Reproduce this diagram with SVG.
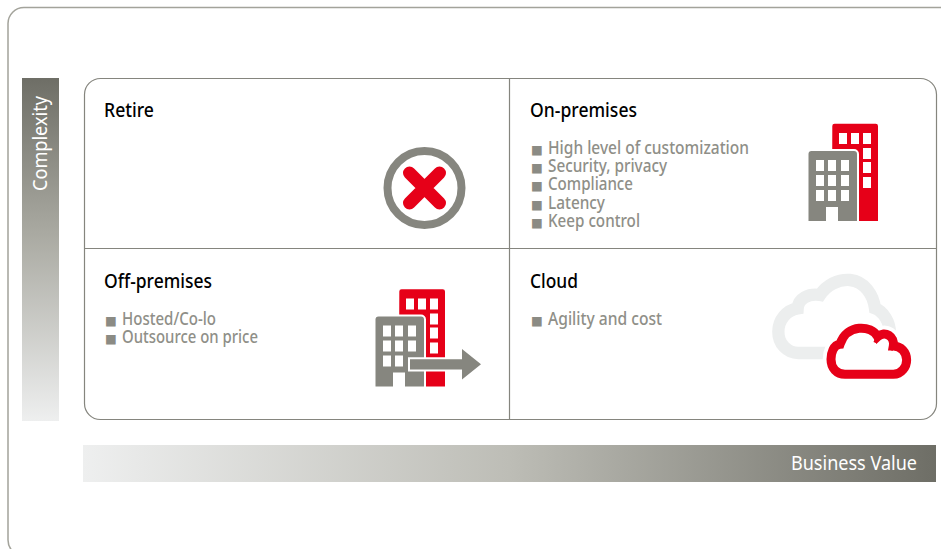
<svg xmlns="http://www.w3.org/2000/svg" width="941" height="549" viewBox="0 0 941 549">
<style>
text{font-family:"Noto Sans","Open Sans","Liberation Sans",sans-serif}
.h{font-size:20px;font-weight:500;fill:#000}
.b{font-size:17.500px;font-weight:500;fill:#8f8f88}
.s{font-family:"DejaVu Sans",sans-serif;font-size:12.500px;fill:#8b8b84}
.l{font-size:20px;fill:#fff}
.f{fill:none;stroke:#a3a39b;stroke-width:1.500}
.g{fill:#86867f}
.r{fill:#e60018}
.w{fill:#fff}
</style>
<defs>
<linearGradient id="gv" x1="0" y1="0" x2="0" y2="1"><stop offset="0" stop-color="#6e6e66"/><stop offset=".45" stop-color="#a9a9a1"/><stop offset="1" stop-color="#eeefef"/></linearGradient>
<linearGradient id="gh" x1="0" y1="0" x2="1" y2="0"><stop offset="0" stop-color="#eeefef"/><stop offset=".5" stop-color="#bdbdb6"/><stop offset="1" stop-color="#6e6e66"/></linearGradient>
<g id="bld">
<path class="r" d="M832.300 126a2.300 2.300 0 0 1 2.300-2.300h41.100a2.300 2.300 0 0 1 2.300 2.300v95h-46z"/>
<g class="w"><rect x="839" y="133" width="8" height="11"/><rect x="851" y="133" width="8" height="11"/><rect x="863" y="133" width="8" height="11"/><rect x="863" y="148" width="8" height="11"/><rect x="863" y="162" width="8" height="11"/><rect x="863" y="177" width="8" height="11"/></g>
<path class="g" stroke="#fff" stroke-width="4" paint-order="stroke" d="M808.500 221V154a3 3 0 0 1 3-3h42.500a3 3 0 0 1 3 3V221z"/>
<g class="w"><rect x="816" y="160" width="8" height="11"/><rect x="828" y="160" width="8" height="11"/><rect x="841" y="160" width="8" height="11"/><rect x="816" y="175" width="8" height="11"/><rect x="828" y="175" width="8" height="11"/><rect x="841" y="175" width="8" height="11"/><rect x="816" y="190" width="8" height="11"/><rect x="828" y="190" width="8" height="11"/><rect x="841" y="190" width="8" height="11"/><rect x="826" y="207" width="12" height="15"/></g>
</g>
</defs>
<rect x="8" y="7.500" width="960" height="548.500" rx="16" class="f"/>
<g id="axis-complexity"><rect x="22" y="78" width="37" height="343" fill="url(#gv)"/><text class="l" transform="translate(47,191) rotate(-90)" textLength="95" lengthAdjust="spacingAndGlyphs">Complexity</text></g>
<g id="axis-value"><rect x="83" y="445" width="853" height="37" fill="url(#gh)"/><text class="l" x="791" y="470" textLength="126" lengthAdjust="spacingAndGlyphs">Business Value</text></g>
<g id="connectors"><rect x="84.500" y="78.500" width="852" height="341" rx="16" fill="none" stroke="#85857e" stroke-width="1.200"/><path d="M509.500 78.500V419.500M84.500 248.500H936.500" fill="none" stroke="#85857e" stroke-width="1.200"/></g>
<g id="retire"><text class="h" x="104" y="117" textLength="50" lengthAdjust="spacingAndGlyphs">Retire</text>
<circle cx="424.500" cy="188" r="37" fill="none" stroke="#86867f" stroke-width="8"/>
<path d="M409.500 173L439.500 203M439.500 173L409.500 203" fill="none" stroke="#e60018" stroke-width="13" stroke-linecap="round"/></g>
<g id="on-premises"><text class="h" x="530" y="117" textLength="107" lengthAdjust="spacingAndGlyphs">On-premises</text>
<text class="s" x="531" y="153.500">■</text><text class="b" x="548" y="154" textLength="201" lengthAdjust="spacingAndGlyphs">High level of customization</text>
<text class="s" x="531" y="171.500">■</text><text class="b" x="548" y="172" textLength="119" lengthAdjust="spacingAndGlyphs">Security, privacy</text>
<text class="s" x="531" y="189.500">■</text><text class="b" x="548" y="190" textLength="85" lengthAdjust="spacingAndGlyphs">Compliance</text>
<text class="s" x="531" y="208.500">■</text><text class="b" x="548" y="209" textLength="57" lengthAdjust="spacingAndGlyphs">Latency</text>
<text class="s" x="531" y="226.500">■</text><text class="b" x="548" y="227" textLength="92" lengthAdjust="spacingAndGlyphs">Keep control</text>
<use href="#bld"/></g>
<g id="off-premises"><text class="h" x="104" y="288" textLength="108" lengthAdjust="spacingAndGlyphs">Off-premises</text>
<text class="s" x="105" y="324.500">■</text><text class="b" x="122" y="325" textLength="94" lengthAdjust="spacingAndGlyphs">Hosted/Co-lo</text>
<text class="s" x="105" y="342.500">■</text><text class="b" x="122" y="343" textLength="136" lengthAdjust="spacingAndGlyphs">Outsource on price</text>
<use href="#bld" transform="translate(-433,165.500)"/>
<rect class="g" x="406" y="355" width="12" height="12"/>
<path class="g" stroke="#fff" stroke-width="4" paint-order="stroke" stroke-miterlimit="8" d="M410 359.300H462V349L481 364.300L462 379.500V369.500H410z"/></g>
<g id="cloud"><text class="h" x="530" y="288" textLength="48" lengthAdjust="spacingAndGlyphs">Cloud</text>
<text class="s" x="531" y="324.500">■</text><text class="b" x="548" y="325" textLength="114" lengthAdjust="spacingAndGlyphs">Agility and cost</text>
<g transform="translate(765,265) scale(.3333)">
<path fill="none" stroke="#eceeee" stroke-width="37" d="M100 264C65 264 40 235 40 200C40 165 65 135 98 130C100 100 130 85 165 90C185 60 220 42 255 45C300 50 325 90 330 130C355 140 375 170 375 205V264H100z"/>
<path fill="#fff" stroke="#fff" stroke-width="50" d="M240 328H385C410 328 425 305 425 285C425 262 408 243 385 243C390 215 360 195 338 215C320 180 245 175 225 238C205 240 198 265 198 283C198 310 215 328 240 328z"/>
<path fill="#fff" stroke="#e60018" stroke-width="27" d="M240 328H385C410 328 425 305 425 285C425 262 408 243 385 243C390 215 360 195 338 215C320 180 245 175 225 238C205 240 198 265 198 283C198 310 215 328 240 328z"/>
<path fill="none" stroke="#e60018" stroke-width="10" d="M338 215L330 233M385 243L378 256"/>
</g></g>
</svg>
